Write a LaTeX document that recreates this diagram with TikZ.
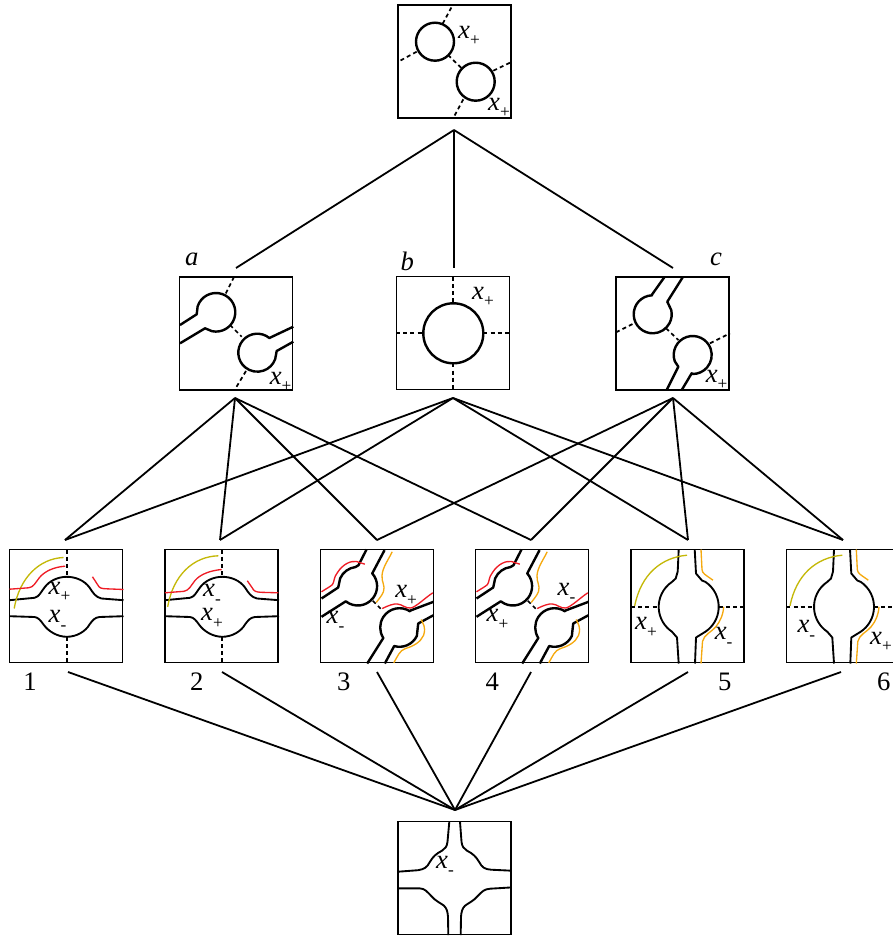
\documentclass[tikz,border=0pt]{standalone}
\usepackage{fontspec}
\setmainfont{Liberation Serif}
\newcommand{\xp}{{\itshape x}\raisebox{-.28em}{\fontsize{13}{13}\selectfont +}}
\newcommand{\xm}{{\itshape x}\raisebox{-.28em}{\fontsize{13}{13}\selectfont -}}
\definecolor{olivey}{HTML}{C4B808}
\definecolor{oranget}{HTML}{F5A90F}
\definecolor{redt}{HTML}{EE1C25}
\tikzset{
  panel/.style={draw=black,line width=1pt,minimum width=84.75pt,minimum height=84.75pt,inner sep=0pt,outer sep=0pt,anchor=north west},
  lab/.style={inner sep=0pt,font=\fontsize{20}{22}\selectfont},
  conn/.style={line width=1.35pt},
  heavy/.style={line width=1.8pt,line join=round},
  medium/.style={line width=1.4pt,line join=round},
  dashline/.style={line width=1.3pt,dash pattern=on 3pt off 2.4pt},
  ycurve/.style={draw=olivey,line width=1pt},
  rcurve/.style={draw=redt,line width=1pt},
  ocurve/.style={draw=oranget,line width=1pt},
}
% horizontal-channel bulb (panels 1, 2)
\newcommand{\hbulb}{%
  \draw[medium] (0,50.7) -- (25,48.3) .. controls (30,47) and (31,43) .. (35,38) .. controls (40,31) and (49,27.3) .. (57.3,27.3) .. controls (66,27.3) and (75,31) .. (80,38) .. controls (84,44) and (86,47.5) .. (92,49) -- (114,50.7);
  \draw[medium] (0,66.7) -- (25,67.5) .. controls (29,68) and (31,71) .. (34,75) .. controls (39,82) and (48,87.3) .. (57.3,87.3) .. controls (67,87.3) and (76,82) .. (80,75) .. controls (83,71) and (85,68) .. (90,67.5) -- (114,66.7);
  \draw[dashline] (57.3,0) -- (57.3,27.3);
  \draw[dashline] (57.3,87.3) -- (57.3,114);
}
% diagonal panels (3, 4)
\newcommand{\diagbulb}{%
  \draw[heavy] (1,49) -- (17.7,38) -- ([shift={(37.3,36.7)}]204:19.3) arc[start angle=204,end angle=263,radius=19.3] -- (38,15.7) -- (46,0);
  \draw[heavy] (1,67.3) -- (25,52) -- ([shift={(37.3,36.7)}]128:19.3) arc[start angle=128,end angle=-41,radius=19.3] -- (51.7,24) -- (64,0.7);
  \draw[heavy] (113,52.3) -- (90,61) -- ([shift={(79,78)}]303:19.3) arc[start angle=303,end angle=147,radius=19.3] -- (46.7,114);
  \draw[heavy] (113,65.7) -- (97.7,74) -- ([shift={(79,78)}]26:19.3) arc[start angle=26,end angle=106,radius=19.3] -- (64.3,114);
  \draw[dashline] (52.3,51.3) -- (62.3,61.3);
  \draw[rcurve] (1,42.3) .. controls (6,39) and (10,37) .. (12,35) .. controls (14,32) and (13,28) .. (17,23) .. controls (22,15) and (30,11) .. (36,12) -- (44.3,14.7);
  \draw[ocurve] (71.7,2.3) .. controls (68,10) and (62,18) .. (61.5,26) .. controls (61,33) and (65,36) .. (63,42) .. controls (61.5,46) and (58,50) .. (55.7,53);
  \draw[rcurve] (61.7,59) .. controls (68,56) and (73,54) .. (77,54.5) .. controls (82,55) and (85,59) .. (90,58.5) .. controls (95,58) and (105,48) .. (112.3,43.3);
  \draw[ocurve] (100.7,70) .. controls (102,74) and (106,77) .. (103,86) .. controls (100,93) and (92,97) .. (85,99) .. controls (79,101) and (77,107) .. (73.3,113.3);
}
% vertical-channel bulb (panels 5, 6)
\newcommand{\vbulb}{%
  \draw[medium] (47.7,0) -- (46.7,22) -- (44.7,29) -- ([shift={(57.7,57.3)}]236:30) arc[start angle=236,end angle=124,radius=30] -- (46,88) -- (47.7,114);
  \draw[medium] (63.7,0) -- (65,24) -- (71,31) -- ([shift={(57.7,57.3)}]-56:30) arc[start angle=-56,end angle=56,radius=30] -- (65,88) -- (64,114);
  \draw[dashline] (0,57.3) -- (27.7,57.3);
  \draw[dashline] (87.7,57.3) -- (113,57.3);
  \draw[ycurve] (3.7,56.3) .. controls (10,25) and (30,8) .. (56,5.7);
  \draw[ocurve] (70,0) -- (71,20) .. controls (71.3,24) and (74,25) .. (82,30.7);
  \draw[ocurve] (92.7,57.3) .. controls (92,66) and (89,72) .. (85,77) .. controls (80,83) and (73,85) .. (71.5,92) -- (70,114);
}
\begin{document}
\begin{tikzpicture}[x=0.75pt,y=-0.75pt]
\useasboundingbox (0,0) rectangle (892,937);
% panels
\node[panel] (top) at (398,5) {};
\node[panel] (pa) at (179.5,277) {};
\node[panel] (pb) at (396.5,276.5) {};
\node[panel] (pc) at (616,277) {};
\node[panel] (p1) at (9.5,549.5) {};
\node[panel] (p2) at (165,549.5) {};
\node[panel] (p3) at (320.5,549.5) {};
\node[panel] (p4) at (475.5,549.5) {};
\node[panel] (p5) at (631,549.5) {};
\node[panel] (p6) at (786.3,549.5) {};
\node[panel] (bot) at (398,821.7) {};
% connector ends
\coordinate (topout) at (454,130);
\coordinate (ain) at (236,268);
\coordinate (bin) at (454,268);
\coordinate (cin) at (673,268);
\coordinate (aout) at (235,398);
\coordinate (bout) at (453,398);
\coordinate (cout) at (673,398);
\coordinate (in1) at (65,540);
\coordinate (in2) at (220,540);
\coordinate (in3) at (377,540);
\coordinate (in4) at (531,540);
\coordinate (in5) at (688,540);
\coordinate (in6) at (843,540);
\coordinate (out1) at (68,672);
\coordinate (out2) at (222,672);
\coordinate (out3) at (377,672);
\coordinate (out4) at (531,672);
\coordinate (out5) at (688,672);
\coordinate (out6) at (841,672);
\coordinate (botin) at (455,810);
\foreach \t in {ain,bin,cin} \draw[conn] (topout) -- (\t);
\foreach \t in {in1,in2,in3,in4} \draw[conn] (aout) -- (\t);
\foreach \t in {in1,in2,in5,in6} \draw[conn] (bout) -- (\t);
\foreach \t in {in3,in4,in5,in6} \draw[conn] (cout) -- (\t);
\foreach \t in {out1,out2,out3,out4,out5,out6} \draw[conn] (\t) -- (botin);
% top panel
\draw[heavy] (435,41.7) circle[radius=19];
\draw[heavy] (475.7,81.7) circle[radius=19];
\draw[dashline] (442.7,23.7) -- (452.7,5);
\draw[dashline] (416.7,51.7) -- (398.3,61.7);
\draw[dashline] (448,55) -- (461.7,68.3);
\draw[dashline] (493.3,70.7) -- (510,62.7);
\draw[dashline] (463.3,99.3) -- (453.3,118);
\node[lab] (l0a) at (469,36) {\xp};
\node[lab] (l0b) at (499,108) {\xp};
% panel a
\draw[heavy] (180,325) -- (196.7,314.3) -- ([shift={(216,312.3)}]198:19.3) arc[start angle=198,end angle=462,radius=19.3] -- (205,328.3) -- (180,343.3);
\draw[heavy] (293.3,326.7) -- (270,337.7) -- ([shift={(257.3,352.7)}]-50:19) arc[start angle=-50,end angle=-340,radius=19] -- (276.7,351) -- (293.3,341.7);
\draw[dashline] (234,277) -- (225,295);
\draw[dashline] (230,325) -- (241.7,336.7);
\draw[dashline] (246,371) -- (235,389.3);
\node[lab] (la) at (191.7,259) {\itshape a};
\node[lab] (lax) at (280.7,381.7) {\xp};
% panel b
\draw[heavy] (453.3,333.3) circle[radius=30];
\draw[dashline] (452.7,276.7) -- (452.7,303.3);
\draw[dashline] (452.7,363.3) -- (452.7,389.3);
\draw[dashline] (396,333.3) -- (423.3,333.3);
\draw[dashline] (483.3,333.3) -- (510,333.3);
\node[lab] (lb) at (407.3,261) {\itshape b};
\node[lab] (lbx) at (483,296.7) {\xp};
% panel c
\draw[heavy] (664.3,277.3) -- (651.7,295) -- ([shift={(652.7,314.3)}]268:19) arc[start angle=268,end angle=-13,radius=19] -- (667.3,301.7) -- (682.7,277.3);
\draw[heavy] (666.7,390) -- (678.3,366.7) -- ([shift={(692.7,355)}]161:19) arc[start angle=161,end angle=450,radius=19] -- (691.7,373.3) -- (681.7,390);
\draw[dashline] (616,332.3) -- (634,323.3);
\draw[dashline] (666,328.3) -- (678.3,340);
\draw[dashline] (710,343.3) -- (730,333.3);
\node[lab] (lc) at (716,259) {\itshape c};
\node[lab] (lcx) at (716.7,380) {\xp};
% panel 1
\begin{scope}[shift={(9.5,549.5)}]
  \hbulb
  \draw[ycurve] (4.7,59) .. controls (10,28) and (30,9) .. (54,8);
  \draw[rcurve] (0,39.7) -- (19,38.3) .. controls (24,38) and (26,33) .. (30,28) .. controls (35,22) and (44,17.5) .. (55.7,16.7);
  \draw[rcurve] (83,27.3) -- (88,35) .. controls (90,39) and (92,39) .. (97,39.3) -- (114,40);
  \node[lab] (l1p) at (50,42.3) {\xp};
  \node[lab] (l1m) at (48,70.7) {\xm};
\end{scope}
% panel 2
\begin{scope}[shift={(165,549.5)}]
  \hbulb
  \draw[ycurve] (2.7,57.3) .. controls (8,26) and (28,7) .. (53.3,6.3);
  \draw[rcurve] (0,43.3) -- (19,41.8) .. controls (24,41) and (26,36) .. (30,31) .. controls (35,25) and (45,21) .. (56.7,20);
  \draw[rcurve] (82.3,31.3) -- (87,38) .. controls (89,42) and (91,42.5) .. (96,42.8) -- (113.3,43.3);
  \node[lab] (l2m) at (47,44.7) {\xm};
  \node[lab] (l2p) at (47,69) {\xp};
\end{scope}
% panel 3
\begin{scope}[shift={(320.5,549.5)}]
  \diagbulb
  \node[lab] (l3p) at (85.7,45.7) {\xp};
  \node[lab] (l3m) at (15,72) {\xm};
\end{scope}
% panel 4
\begin{scope}[shift={(475.5,549.5)}]
  \diagbulb
  \node[lab] (l4m) at (91,43.3) {\xm};
  \node[lab] (l4p) at (22,70) {\xp};
\end{scope}
% panel 5
\begin{scope}[shift={(631,549.5)}]
  \vbulb
  \node[lab] (l5p) at (15,78) {\xp};
  \node[lab] (l5m) at (92.7,88) {\xm};
\end{scope}
% panel 6
\begin{scope}[shift={(786.3,549.5)}]
  \vbulb
  \node[lab] (l6m) at (20,80.7) {\xm};
  \node[lab] (l6p) at (94.7,92.3) {\xp};
\end{scope}
% numbers
\node[lab] (n1) at (30,681.7) {1};
\node[lab] (n2) at (196.7,681.7) {2};
\node[lab] (n3) at (343.7,681.7) {3};
\node[lab] (n4) at (492.3,681.7) {4};
\node[lab] (n5) at (724.7,681.7) {5};
\node[lab] (n6) at (883.7,681.7) {6};
% bottom panel
\begin{scope}[shift={(398,821.7)}]
  \draw[medium] (51.3,0) -- (49.5,20) .. controls (49,25) and (47,27) .. (44,29) .. controls (38,32) and (35,35) .. (32,40) .. controls (29,46) and (26,47.5) .. (20,48.5) -- (0,50);
  \draw[medium] (62,0) -- (63.5,20) .. controls (64,25) and (66,27) .. (69,29) .. controls (75,32) and (78,35) .. (81,40) .. controls (84,46) and (87,47.5) .. (93,48) -- (113.7,49);
  \draw[medium] (0,66.7) -- (22,66.7) .. controls (27,67) and (29,70) .. (33,74) .. controls (37,79) and (42,81) .. (46,84) .. controls (49,87) and (49.5,90) .. (50,95) -- (50.3,113.3);
  \draw[medium] (113.7,65.7) -- (92,67) .. controls (86,67.5) and (84,70) .. (80,74) .. controls (76,79) and (71,81) .. (67,84) .. controls (64,87) and (63.5,90) .. (63,95) -- (62.7,113.3);
  \node[lab] (lbotm) at (47,44.3) {\xm};
\end{scope}
\end{tikzpicture}
\end{document}
